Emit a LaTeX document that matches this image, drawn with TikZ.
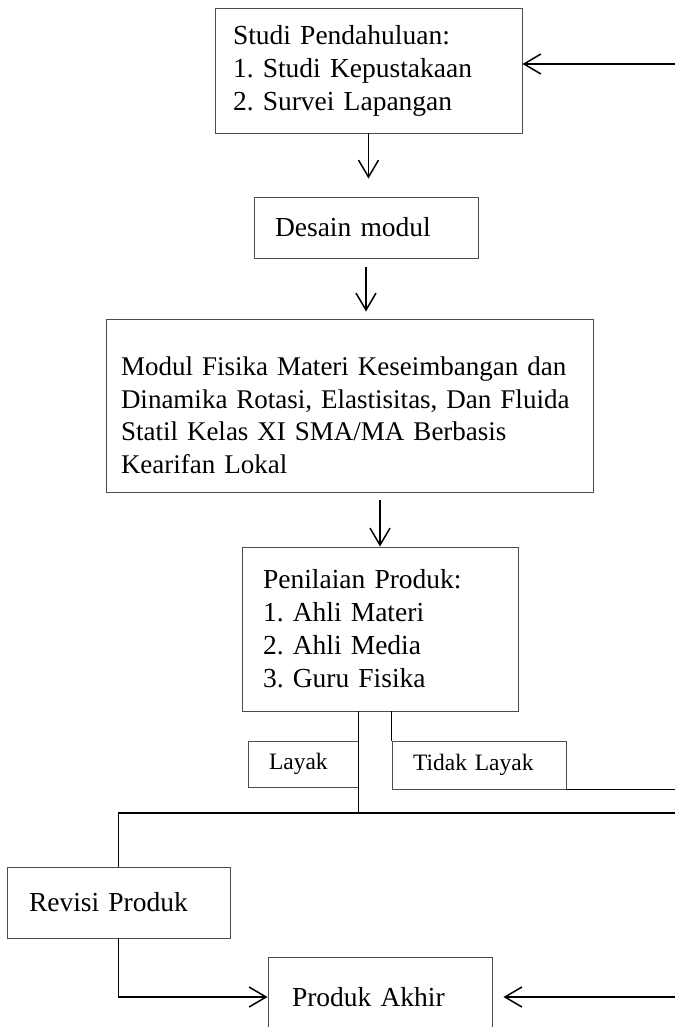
\documentclass[tikz,border=0pt]{standalone}
\usepackage{fontspec}
\setmainfont{Liberation Serif}
\usetikzlibrary{arrows.meta}
\frenchspacing

\begin{document}
\begin{tikzpicture}[x = 1pt, y = -1pt,
    box/.style     = {draw = black!70, line width = 0.9pt,
      align = left, inner ysep = 0pt,
      font = \fontsize{27.5}{33}\selectfont},
    tag/.style     = {box, font = \fontsize{23.5}{28}\selectfont},
    link/.style    = {line width = 1.5pt},
    arr/.style     = {link,
      -{Straight Barb[length=17pt, width=20pt]}},
  ]
  \useasboundingbox (0,0) rectangle (675,1027);

  % boxes
  \node[box, inner xsep=18pt, text width=271pt, minimum height=125pt]
    (studi) at (368.5,70.5) {Studi Pendahuluan:\\1. Studi Kepustakaan\\2. Survei Lapangan};
  \node[box, inner xsep=21pt, text width=182pt, minimum height=61pt]
    (desain) at (366,227.5) {Desain modul};
  \node[box, inner xsep=15pt, text width=457pt, minimum height=173pt,
    font = \fontsize{27}{32.5}\selectfont]
    (modul) at (349.5,405.5) {\rule{0pt}{38pt}Modul Fisika Materi Keseimbangan dan\\
      Dinamika Rotasi, Elastisitas, Dan Fluida\\
      Statil Kelas XI SMA/MA Berbasis\\Kearifan Lokal};
  \node[box, inner xsep=21pt, text width=234pt, minimum height=164pt]
    (nilai) at (380,629) {Penilaian Produk:\\1. Ahli Materi\\2. Ahli Media\\3. Guru Fisika};
  \node[tag, inner xsep=21pt, text width=68pt, minimum height=46pt]
    (layak) at (303,764) {Layak};
  \node[tag, inner xsep=21pt, text width=132pt, minimum height=48pt]
    (tidak) at (479,765) {Tidak Layak};
  \node[box, inner xsep=22pt, text width=179pt, minimum height=71pt]
    (revisi) at (118.5,902.5) {Revisi Produk};
  \node[box, inner xsep=24pt, text width=176pt, minimum height=80pt]
    (akhir) at (380,997) {Produk Akhir};

  \coordinate (inTop) at (675,64);
  \coordinate (inBot) at (675,997);
  \coordinate (bus)   at (675,813);

  % connectors
  \draw[arr] (inTop) -- (inTop -| studi.east);
  \draw[arr, shorten >=18pt] (studi.south) -- (studi.south |- desain.north);
  \draw[arr, shorten <=9pt, shorten >=7pt] (desain.south) -- (desain.south |- modul.north);
  \draw[arr, shorten <=8pt] (nilai.north |- modul.south) -- (nilai.north);
  \draw[link] (layak.east |- nilai.south) -- (layak.east |- bus);
  \draw[link] (tidak.north west |- nilai.south) -- (tidak.north west);
  \draw[link] (tidak.south east) -- (tidak.south east -| bus);
  \draw[link] (bus) -- (bus -| revisi.north) -- (revisi.north);
  \draw[arr] (revisi.south) |- (akhir.west);
  \draw[arr, shorten >=11pt] (inBot) -- (akhir.east);
\end{tikzpicture}
\end{document}
